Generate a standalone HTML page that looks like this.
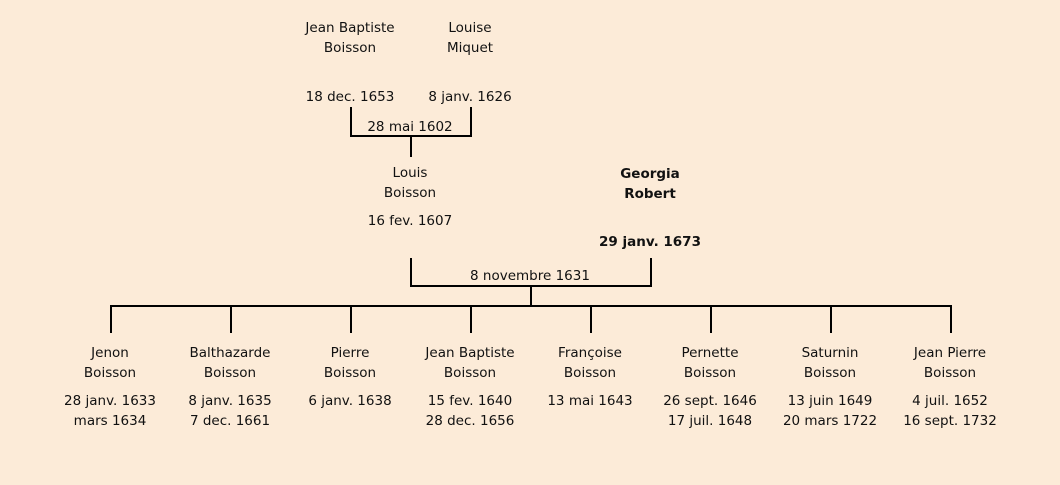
<!DOCTYPE html>
<html><head><meta charset="utf-8"><style>
body{margin:0;width:1060px;height:485px;background:#fcebd8;position:relative;overflow:hidden;font-family:"DejaVu Sans","Liberation Sans",sans-serif;font-size:13.5px;color:#111}
.t{position:absolute;width:200px;margin-left:-100px;text-align:center;line-height:20px;white-space:nowrap;margin-top:1px}
.b{font-weight:bold}
.l{position:absolute;background:#000}
</style></head><body>
<div class="t" style="left:350px;top:17px">Jean Baptiste<br>Boisson</div>
<div class="t" style="left:350px;top:86px">18 dec. 1653</div>
<div class="t" style="left:470px;top:17px">Louise<br>Miquet</div>
<div class="t" style="left:470px;top:86px">8 janv. 1626</div>
<div class="l" style="left:350px;top:107px;width:2px;height:30px"></div>
<div class="l" style="left:470px;top:107px;width:2px;height:30px"></div>
<div class="l" style="left:350px;top:135px;width:122px;height:2px"></div>
<div class="l" style="left:410px;top:135px;width:2px;height:22px"></div>
<div class="t" style="left:410px;top:116px">28 mai 1602</div>

<div class="t" style="left:410px;top:162px">Louis<br>Boisson</div>
<div class="t" style="left:410px;top:210px">16 fev. 1607</div>
<div class="t b" style="left:650px;top:163px">Georgia<br>Robert</div>
<div class="t b" style="left:650px;top:231px">29 janv. 1673</div>
<div class="l" style="left:410px;top:258px;width:2px;height:29px"></div>
<div class="l" style="left:650px;top:258px;width:2px;height:29px"></div>
<div class="l" style="left:410px;top:285px;width:242px;height:2px"></div>
<div class="t" style="left:530px;top:265px">8 novembre 1631</div>
<div class="l" style="left:530px;top:285px;width:2px;height:21px"></div>
<div class="l" style="left:110px;top:305px;width:842px;height:2px"></div>

<div class="l" style="left:110px;top:305px;width:2px;height:28px"></div>
<div class="l" style="left:230px;top:305px;width:2px;height:28px"></div>
<div class="l" style="left:350px;top:305px;width:2px;height:28px"></div>
<div class="l" style="left:470px;top:305px;width:2px;height:28px"></div>
<div class="l" style="left:590px;top:305px;width:2px;height:28px"></div>
<div class="l" style="left:710px;top:305px;width:2px;height:28px"></div>
<div class="l" style="left:830px;top:305px;width:2px;height:28px"></div>
<div class="l" style="left:950px;top:305px;width:2px;height:28px"></div>

<div class="t" style="left:110px;top:342px">Jenon<br>Boisson</div>
<div class="t" style="left:110px;top:390px">28 janv. 1633<br>mars 1634</div>
<div class="t" style="left:230px;top:342px">Balthazarde<br>Boisson</div>
<div class="t" style="left:230px;top:390px">8 janv. 1635<br>7 dec. 1661</div>
<div class="t" style="left:350px;top:342px">Pierre<br>Boisson</div>
<div class="t" style="left:350px;top:390px">6 janv. 1638</div>
<div class="t" style="left:470px;top:342px">Jean Baptiste<br>Boisson</div>
<div class="t" style="left:470px;top:390px">15 fev. 1640<br>28 dec. 1656</div>
<div class="t" style="left:590px;top:342px">Françoise<br>Boisson</div>
<div class="t" style="left:590px;top:390px">13 mai 1643</div>
<div class="t" style="left:710px;top:342px">Pernette<br>Boisson</div>
<div class="t" style="left:710px;top:390px">26 sept. 1646<br>17 juil. 1648</div>
<div class="t" style="left:830px;top:342px">Saturnin<br>Boisson</div>
<div class="t" style="left:830px;top:390px">13 juin 1649<br>20 mars 1722</div>
<div class="t" style="left:950px;top:342px">Jean Pierre<br>Boisson</div>
<div class="t" style="left:950px;top:390px">4 juil. 1652<br>16 sept. 1732</div>
</body></html>
